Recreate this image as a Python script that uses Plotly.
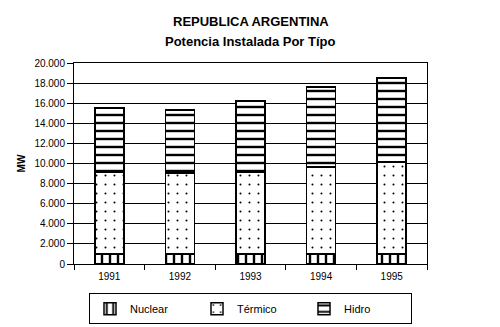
import plotly.graph_objects as go

years = ["1991", "1992", "1993", "1994", "1995"]
nuclear = [1000, 1000, 1000, 1000, 1000]
termico = [8100, 8050, 8100, 8650, 9150]
hidro = [6420, 6270, 7120, 7960, 8360]

FONT = "Liberation Sans, Arial, sans-serif"

fig = go.Figure()
series = [
    ("Nuclear", nuclear, "|", 8, 0.3),
    ("Térmico", termico, ".", 9, 0.04),
    ("Hidro", hidro, "-", 8, 0.3),
]
for name, vals, shape, size, sol in series:
    fig.add_trace(go.Bar(
        x=years, y=vals, name=name,
        marker=dict(
            color="white",
            line=dict(color="black", width=1.5),
            pattern=dict(shape=shape, size=size, solidity=sol,
                         fgcolor="black", bgcolor="white", fillmode="replace"),
        ),
        width=0.41,
    ))

fig.update_layout(
    barmode="stack",
    width=500, height=327,
    margin=dict(l=74, r=73, t=63, b=63, autoexpand=False),
    paper_bgcolor="white", plot_bgcolor="white",
    separators=",.",
    font=dict(family=FONT, size=11, color="black"),
    annotations=[
        dict(text="<b>REPUBLICA ARGENTINA</b>", xref="paper", yref="paper",
             x=0.5, y=(264 - 22) / 201, xanchor="center", yanchor="middle",
             showarrow=False, font=dict(family=FONT, size=13, color="black")),
        dict(text="<b>Potencia Instalada Por Típo</b>", xref="paper", yref="paper",
             x=0.5, y=(264 - 42) / 201, xanchor="center", yanchor="middle",
             showarrow=False, font=dict(family=FONT, size=13, color="black")),
    ],
    showlegend=True,
    legend=dict(
        orientation="h", x=0.5, xanchor="center", y=-0.145, yanchor="top",
        bordercolor="black", borderwidth=1, bgcolor="white",
        entrywidth=62, entrywidthmode="pixels",
        font=dict(family=FONT, size=11, color="black"),
        traceorder="normal",
    ),
)
fig.update_xaxes(
    type="category", tickson="boundaries", ticks="outside", ticklen=5,
    tickcolor="black", showline=True, linecolor="black", linewidth=1,
    mirror=True, showgrid=False, tickfont=dict(size=10), ticklabelstandoff=3,
)
fig.update_yaxes(
    range=[0, 20000], dtick=2000, tickformat=",d", ticks="outside", ticklen=6,
    tickcolor="black", showline=True, linecolor="black", linewidth=1,
    mirror=True, showgrid=True, gridcolor="black", gridwidth=1,
    tickfont=dict(size=10), zeroline=False,
    title=dict(text="<b>MW</b>", font=dict(size=10), standoff=6),
)
fig.write_html("out.html")
